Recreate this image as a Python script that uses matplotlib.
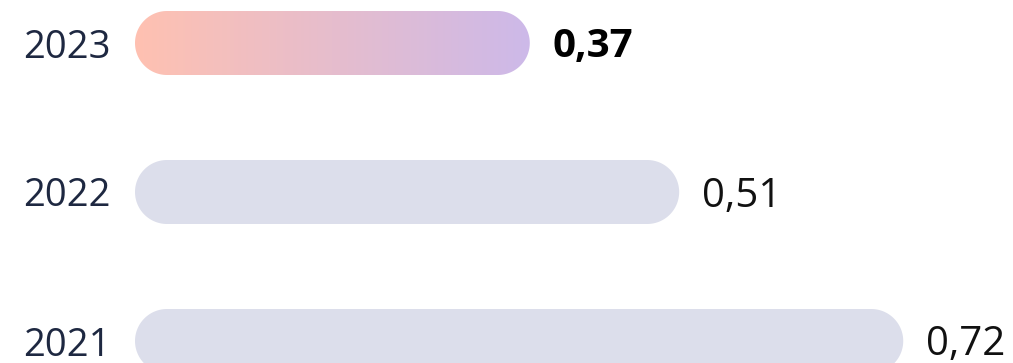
import matplotlib.pyplot as plt
import numpy as np
from matplotlib.patches import PathPatch
from matplotlib.path import Path
from matplotlib.colors import LinearSegmentedColormap

# Values per year
years = ["2021", "2022", "2023"]
values = [0.72, 0.51, 0.37]
labels = ["0,72", "0,51", "0,37"]
highlight = "2023"

plt.rcParams['font.family'] = ['Open Sans', 'DejaVu Sans']

# data units per pixel on each axis
XU = 1 / 1067
YU = 1 / 149


def pill(x0, x1, yc, h):
    # rounded bar from x0 to x1 with semicircular ends
    ry = h / 2
    rx = (ry / YU) * XU
    t = np.linspace(-np.pi / 2, np.pi / 2, 60)
    right = np.column_stack([x1 - rx + rx * np.cos(t), yc + ry * np.sin(t)])
    t2 = np.linspace(np.pi / 2, 3 * np.pi / 2, 60)
    left = np.column_stack([x0 + rx + rx * np.cos(t2), yc + ry * np.sin(t2)])
    verts = np.vstack([right, left, right[:1]])
    codes = [Path.MOVETO] + [Path.LINETO] * (len(verts) - 2) + [Path.CLOSEPOLY]
    return Path(verts, codes)


fig = plt.figure(figsize=(10.13, 3.63), dpi=100)
ax = fig.add_axes([0, 0, 1, 1])
ax.axis('off')

bar_h = 64 * YU
grad = LinearSegmentedColormap.from_list("g", ["#FFC1B1", "#CDB9E9"])

for i, (yr, v, lab) in enumerate(zip(years, values, labels)):
    path = pill(0, v, i, bar_h)
    if yr == highlight:
        box = PathPatch(path, facecolor="none", linewidth=0)
        ax.add_patch(box)
        img = ax.imshow(np.linspace(0, 1, 256).reshape(1, -1), cmap=grad,
                        extent=(0, v, i - bar_h / 2, i + bar_h / 2),
                        aspect='auto', interpolation='bicubic')
        img.set_clip_path(box)
        weight = 'bold'
        color = '#000000'
    else:
        ax.add_patch(PathPatch(path, facecolor="#DCDEEB", linewidth=0))
        weight = 'normal'
        color = '#111111'
    ax.text(-24 * XU, i - 14.5 * YU, yr, ha='right', va='baseline',
            fontsize=27.5, color='#1E2841')
    ax.text(v + 23 * XU, i - 14.5 * YU, lab, ha='left', va='baseline',
            fontsize=29, color=color, fontweight=weight)

ax.set_xlim(-135 * XU, (1013 - 135) * XU)
ax.set_ylim(-22 * YU, 2 + 43 * YU)

fig.savefig("out.png", dpi=100)
